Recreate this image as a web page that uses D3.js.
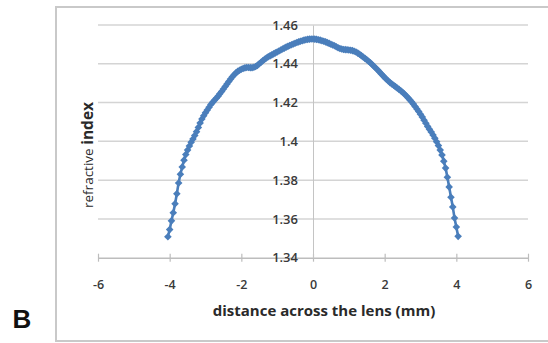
<!DOCTYPE html>
<html>
<head>
<meta charset="utf-8">
<script src="https://cdn.jsdelivr.net/npm/d3@7"></script>
<style>
  body { margin: 0; background: #fff; }
  svg { display: block; }
</style>
</head>
<body>
<svg id="chart"></svg>
<script>
// distance across the lens (mm)
const distance = [
  -4.05, -4.00, -3.95, -3.90, -3.85, -3.80, -3.75, -3.70, -3.65, -3.60,
  -3.55, -3.50, -3.45, -3.40, -3.35, -3.30, -3.25, -3.20, -3.15, -3.10,
  -3.05, -3.00, -2.95, -2.90, -2.85, -2.80, -2.75, -2.70, -2.65, -2.60,
  -2.55, -2.50, -2.45, -2.40, -2.35, -2.30, -2.25, -2.20, -2.15, -2.10,
  -2.05, -2.00, -1.95, -1.90, -1.85, -1.80, -1.75, -1.70, -1.65, -1.60,
  -1.55, -1.50, -1.45, -1.40, -1.35, -1.30, -1.25, -1.20, -1.15, -1.10,
  -1.05, -1.00, -0.95, -0.90, -0.85, -0.80, -0.75, -0.70, -0.65, -0.60,
  -0.55, -0.50, -0.45, -0.40, -0.35, -0.30, -0.25, -0.20, -0.15, -0.10,
  -0.05, 0.00, 0.05, 0.10, 0.15, 0.20, 0.25, 0.30, 0.35, 0.40,
  0.45, 0.50, 0.55, 0.60, 0.65, 0.70, 0.75, 0.80, 0.85, 0.90,
  0.95, 1.00, 1.05, 1.10, 1.15, 1.20, 1.25, 1.30, 1.35, 1.40,
  1.45, 1.50, 1.55, 1.60, 1.65, 1.70, 1.75, 1.80, 1.85, 1.90,
  1.95, 2.00, 2.05, 2.10, 2.15, 2.20, 2.25, 2.30, 2.35, 2.40,
  2.45, 2.50, 2.55, 2.60, 2.65, 2.70, 2.75, 2.80, 2.85, 2.90,
  2.95, 3.00, 3.05, 3.10, 3.15, 3.20, 3.25, 3.30, 3.35, 3.40,
  3.45, 3.50, 3.55, 3.60, 3.65, 3.70, 3.75, 3.80, 3.85, 3.90,
  3.95, 4.00, 4.05
];

// refractive index
const refIndex = [
  1.3508, 1.3545, 1.3590, 1.3632, 1.3678, 1.3730, 1.3785, 1.3830, 1.3868, 1.3903,
  1.3932, 1.3955, 1.3976, 1.3995, 1.4012, 1.4030, 1.4050, 1.4072, 1.4095, 1.4115,
  1.4132, 1.4148, 1.4162, 1.4176, 1.4190, 1.4201, 1.4212, 1.4222, 1.4233, 1.4245,
  1.4257, 1.4270, 1.4283, 1.4296, 1.4309, 1.4321, 1.4333, 1.4344, 1.4353, 1.4361,
  1.4367, 1.4372, 1.4376, 1.4379, 1.4381, 1.4381, 1.4380, 1.4380, 1.4382, 1.4386,
  1.4392, 1.4400, 1.4408, 1.4416, 1.4423, 1.4430, 1.4436, 1.4441, 1.4446, 1.4451,
  1.4456, 1.4461, 1.4466, 1.4471, 1.4476, 1.4481, 1.4486, 1.4490, 1.4494, 1.4498,
  1.4502, 1.4506, 1.4510, 1.4513, 1.4516, 1.4519, 1.4522, 1.4524, 1.4526, 1.4527,
  1.4528, 1.4528, 1.4527, 1.4526, 1.4524, 1.4522, 1.4519, 1.4516, 1.4513, 1.4509,
  1.4505, 1.4501, 1.4497, 1.4493, 1.4488, 1.4483, 1.4479, 1.4476, 1.4474, 1.4473,
  1.4472, 1.4471, 1.4470, 1.4468, 1.4465, 1.4461, 1.4455, 1.4449, 1.4442, 1.4435,
  1.4428, 1.4421, 1.4413, 1.4405, 1.4396, 1.4387, 1.4378, 1.4369, 1.4359, 1.4349,
  1.4339, 1.4329, 1.4320, 1.4311, 1.4303, 1.4296, 1.4289, 1.4282, 1.4275, 1.4268,
  1.4261, 1.4253, 1.4244, 1.4235, 1.4225, 1.4215, 1.4204, 1.4192, 1.4180, 1.4167,
  1.4154, 1.4140, 1.4125, 1.4109, 1.4093, 1.4077, 1.4062, 1.4048, 1.4033, 1.4016,
  1.3998, 1.3978, 1.3955, 1.3930, 1.3898, 1.3862, 1.3815, 1.3765, 1.3712, 1.3662,
  1.3605, 1.3558, 1.3510
];

const xTicks = [-6, -4, -2, 0, 2, 4, 6];
const yTicks = [1.34, 1.36, 1.38, 1.40, 1.42, 1.44, 1.46];

const xTitle = "distance across the lens (mm)";
const yTitleLight = "refractive ";
const yTitleBold = "index";
const panelLetter = "B";

function drawChart(){
  const canvasWidth = 548;
  const canvasHeight = 343;
  const plot = {"left": 98, "right": 528, "top": 25, "bottom": 257.7};
  const blue = "#4a7ebb";
  const tickFont = "'Open Sans', sans-serif";

  var svg = d3.select("#chart")
              .attr("width", canvasWidth)
              .attr("height", canvasHeight);

  // outer frame, right side runs off the picture
  svg.append("rect")
     .attr("x", 56)
     .attr("y", 7)
     .attr("width", 600)
     .attr("height", 334)
     .attr("fill", "none")
     .attr("stroke", "#c9c9c9")
     .attr("stroke-width", 2);

  const xScale = d3.scaleLinear()
                   .domain([-6, 6])
                   .range([plot["left"], plot["right"]]);
  const yScale = d3.scaleLinear()
                   .domain([1.34, 1.46])
                   .range([plot["bottom"], plot["top"]]);

  // horizontal gridlines
  svg.append("g")
     .attr("class", "grid")
     .selectAll("line")
     .data(yTicks.filter((d) => d > 1.34))
     .enter()
     .append("line")
     .attr("x1", plot["left"])
     .attr("x2", plot["right"])
     .attr("y1", (d) => yScale(d))
     .attr("y2", (d) => yScale(d))
     .attr("stroke", "#d4d4d4")
     .attr("stroke-width", 1.5);

  // x axis sits on y = 1.34 with cross ticks
  const xAxis = d3.axisBottom(xScale)
                  .tickValues(xTicks)
                  .tickSizeInner(4)
                  .tickSizeOuter(0)
                  .tickFormat((d) => String(d));

  var gx = svg.append("g")
              .attr("id", "x-axis")
              .attr("transform", "translate(0," + yScale(1.34) + ")")
              .call(xAxis);
  gx.select(".domain").attr("stroke", "#bdbdbd").attr("stroke-width", 1.5);
  gx.selectAll(".tick line")
    .attr("y1", -4)
    .attr("stroke", "#bdbdbd")
    .attr("stroke-width", 1.2);
  gx.selectAll(".tick text")
    .attr("font-family", tickFont)
    .attr("font-weight", 600)
    .attr("font-size", 12.5)
    .attr("fill", "#3a3a3a")
    .attr("dy", "0.35em")
    .attr("y", 27);

  // y axis crosses at x = 0
  const yAxis = d3.axisLeft(yScale)
                  .tickValues(yTicks)
                  .tickSize(0)
                  .tickPadding(15)
                  .tickFormat((d) => d3.format(".2f")(d).replace(/0$/, "").replace(/\.0$/, ""));

  var gy = svg.append("g")
              .attr("id", "y-axis")
              .attr("transform", "translate(" + xScale(0) + ",0)")
              .call(yAxis);
  gy.select(".domain").attr("stroke", "#c4c4c4").attr("stroke-width", 1);
  gy.selectAll(".tick text")
    .attr("font-family", tickFont)
    .attr("font-weight", 600)
    .attr("font-size", 13)
    .attr("fill", "#3a3a3a");

  // the series: line with diamond markers
  var points = distance.map((d, i) => [d, refIndex[i]]);

  const line = d3.line()
                 .x((d) => xScale(d[0]))
                 .y((d) => yScale(d[1]))
                 .curve(d3.curveMonotoneX);

  svg.append("path")
     .datum(points)
     .attr("d", line)
     .attr("fill", "none")
     .attr("stroke", blue)
     .attr("stroke-width", 2.6);

  svg.append("g")
     .attr("class", "markers")
     .selectAll("path")
     .data(points)
     .enter()
     .append("path")
     .attr("transform", (d) => "translate(" + xScale(d[0]) + "," + yScale(d[1]) + ")")
     .attr("d", "M0,-3.8L3.8,0L0,3.8L-3.8,0Z")
     .attr("fill", blue);

  // axis titles
  svg.append("text")
     .attr("x", 324)
     .attr("y", 316)
     .attr("text-anchor", "middle")
     .attr("font-family", tickFont)
     .attr("font-weight", 700)
     .attr("font-size", 15)
     .attr("fill", "#2a2a2a")
     .text(xTitle);

  var yTitle = svg.append("text")
                  .attr("transform", "translate(93,155) rotate(-90)")
                  .attr("text-anchor", "middle")
                  .attr("font-family", tickFont)
                  .attr("fill", "#2a2a2a");
  yTitle.append("tspan")
        .attr("font-size", 13.5)
        .attr("font-weight", 400)
        .text(yTitleLight);
  yTitle.append("tspan")
        .attr("font-size", 15.5)
        .attr("font-weight", 700)
        .text(yTitleBold);

  // panel letter
  svg.append("text")
     .attr("x", 22)
     .attr("y", 328)
     .attr("text-anchor", "middle")
     .attr("font-family", "'Liberation Sans', Arial, sans-serif")
     .attr("font-weight", 700)
     .attr("font-size", 26)
     .attr("fill", "#111")
     .text(panelLetter);
}

drawChart();
</script>
</body>
</html>
